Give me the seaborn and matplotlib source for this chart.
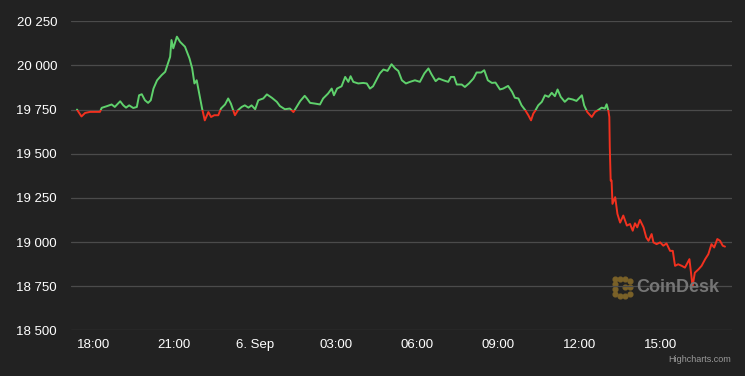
"""
BTC price over the last 24 hours, CoinDesk style (green above open, red below)
"""

import numpy as np
import pandas as pd
import matplotlib
matplotlib.use("Agg")
import matplotlib.pyplot as plt
import matplotlib.dates as mdates
from matplotlib.patches import Rectangle
import seaborn as sns

# Data: minutes after 5 Sep 17:24 and price (USD)
start_time = "2022-09-05 17:24"
minutes = [
    0, 10, 18, 29, 40, 51, 55, 66, 77, 84, 96, 103, 109, 116, 125, 133,
    138, 144, 151, 158, 164, 170, 178, 188, 196, 201, 207, 210, 214, 222,
    229, 240, 250, 256, 261, 266, 271, 278, 284, 292, 298, 305, 314, 320,
    329, 336, 342, 351, 358, 366, 373, 381, 388, 396, 403, 414, 422, 433,
    444, 451, 462, 473, 481, 488, 496, 506, 511, 518, 529, 540, 547, 558,
    566, 571, 578, 588, 596, 603, 608, 614, 625, 636, 644, 651, 658, 667,
    673, 681, 690, 699, 707, 714, 722, 731, 740, 751, 762, 772, 781, 788,
    797, 804, 814, 825, 831, 838, 844, 855, 862, 871, 881, 888, 898, 905,
    913, 922, 930, 940, 947, 958, 967, 973, 981, 988, 996, 1003, 1009,
    1014, 1018, 1025, 1033, 1040, 1048, 1055, 1062, 1068, 1075, 1084,
    1092, 1102, 1110, 1122, 1127, 1134, 1144, 1151, 1158, 1166, 1173,
    1177, 1181, 1183, 1184, 1186, 1188, 1190, 1196, 1201, 1207, 1214,
    1222, 1229, 1235, 1240, 1245, 1251, 1259, 1265, 1270, 1277, 1281,
    1288, 1296, 1303, 1310, 1318, 1324, 1329, 1336, 1344, 1351, 1361,
    1364, 1368, 1373, 1381, 1388, 1396, 1403, 1410, 1416, 1423, 1429,
    1435, 1440,
]
prices = [
    19750, 19711, 19731, 19737, 19737, 19737, 19760, 19769, 19779, 19765,
    19797, 19774, 19761, 19774, 19759, 19765, 19831, 19837, 19803, 19788,
    19803, 19869, 19916, 19945, 19964, 20002, 20049, 20144, 20097, 20163,
    20134, 20106, 20040, 19983, 19898, 19916, 19850, 19756, 19689, 19736,
    19708, 19718, 19718, 19756, 19779, 19813, 19784, 19718, 19747, 19765,
    19774, 19761, 19774, 19752, 19803, 19813, 19836, 19817, 19794, 19770,
    19752, 19756, 19736, 19765, 19798, 19828, 19813, 19788, 19784, 19779,
    19813, 19841, 19869, 19831, 19869, 19882, 19935, 19907, 19939, 19907,
    19898, 19901, 19898, 19869, 19882, 19926, 19955, 19977, 19969, 20007,
    19983, 19969, 19916, 19898, 19907, 19916, 19907, 19955, 19983, 19949,
    19911, 19926, 19916, 19907, 19935, 19935, 19892, 19892, 19878, 19898,
    19926, 19960, 19960, 19973, 19916, 19901, 19903, 19864, 19869, 19884,
    19850, 19817, 19813, 19774, 19747, 19718, 19689, 19727, 19742, 19774,
    19794, 19831, 19822, 19845, 19826, 19864, 19822, 19794, 19813, 19807,
    19799, 19831, 19774, 19736, 19708, 19736, 19747, 19761, 19756, 19780,
    19742, 19708, 19537, 19348, 19348, 19216, 19254, 19159, 19110, 19150,
    19093, 19102, 19064, 19106, 19083, 19125, 19083, 19026, 19007, 19045,
    18998, 18988, 18998, 18979, 18992, 18950, 18950, 18865, 18874, 18865,
    18855, 18903, 18836, 18750, 18826, 18845, 18865, 18903, 18931, 18988,
    18969, 19017, 19007, 18979, 18974,
]
y_ticks = [18500, 18750, 19000, 19250, 19500, 19750, 20000, 20250]

df = pd.DataFrame({
    "time": pd.Timestamp(start_time) + pd.to_timedelta(minutes, unit="min"),
    "price": prices,
})
open_price = prices[0]

# Colours
bg = "#222222"
green = "#5fd16c"
red = "#f2311f"

sns.set_style("dark", {"axes.facecolor": bg, "figure.facecolor": bg})
plt.rcParams["font.family"] = ["Liberation Sans", "DejaVu Sans"]

fig = plt.figure(figsize=(7.45, 3.76), dpi=100)
ax = fig.add_axes([71 / 745, (376 - 330.3) / 376, 661 / 745, 309 / 376])
ax.patch.set_alpha(0)

# Watermark (under the line)
fig.text(636 / 745, 1 - 288 / 376, "CoinDesk", color="#767676", fontsize=13,
         fontweight="bold", va="center", ha="left", zorder=0)
logo_x = [615, 620, 625, 630, 615, 615, 615, 620, 625, 630, 625, 630]
logo_y = [279, 279, 279, 281, 284, 289, 294, 296, 296, 294, 287, 287]
ax.plot([x / 745 for x in logo_x], [1 - y / 376 for y in logo_y], "o",
        ms=3.4, color="#7a6128", transform=fig.transFigure, clip_on=False,
        zorder=0.5)

# Price line drawn twice, clipped above / below the opening price
sns.lineplot(data=df, x="time", y="price", ax=ax, color=green, lw=1.4,
             estimator=None, sort=False)
sns.lineplot(data=df, x="time", y="price", ax=ax, color=red, lw=1.4,
             estimator=None, sort=False)
x0 = mdates.date2num(df["time"].iloc[0]) - 2
above = Rectangle((x0, open_price), 5, 5000, transform=ax.transData)
below = Rectangle((x0, open_price - 5000), 5, 5000, transform=ax.transData)
ax.lines[1].set_clip_path(above)
ax.lines[2].set_clip_path(below)

# Axes
ax.set_ylim(18500, 20250)
t0 = df["time"].iloc[0]
ax.set_xlim(t0 - pd.Timedelta(minutes=13.3), t0 + pd.Timedelta(minutes=1455.6))
ax.set_yticks(y_ticks)
ax.yaxis.set_major_formatter(plt.FuncFormatter(lambda v, p: f"{v:,.0f}".replace(",", " ")))


def time_label(v, pos):
    d = mdates.num2date(v)
    if d.hour == 0:
        return f"{d.day}. {d:%b}"
    return f"{d:%H:%M}"


ax.xaxis.set_major_locator(mdates.HourLocator(byhour=range(0, 24, 3)))
ax.xaxis.set_major_formatter(plt.FuncFormatter(time_label))

ax.grid(axis="y", color="#4b4b4b", lw=0.9)
ax.grid(axis="x", visible=False)
for s in ax.spines.values():
    s.set_visible(False)
ax.tick_params(axis="y", length=0, pad=10, labelcolor="white", labelsize=9.5)
ax.tick_params(axis="x", length=0, pad=6, labelcolor="white", labelsize=9.5)
ax.set_xlabel("")
ax.set_ylabel("")

fig.text(731 / 745, 1 - 359 / 376, "Highcharts.com", color="#9a9a9a",
         fontsize=6.5, ha="right", va="center")

fig.savefig("out.png", dpi=100, facecolor=bg)
